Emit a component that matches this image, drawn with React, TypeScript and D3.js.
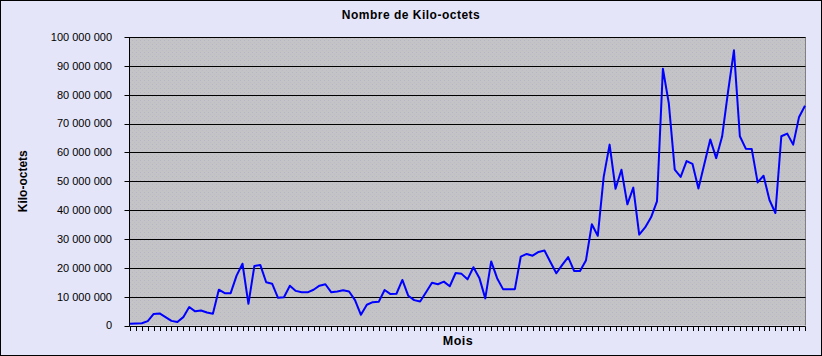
import React from "react";
import * as d3 from "d3";

const title = "Nombre de Kilo-octets";
const yTitle = "Kilo-octets";
const xTitle = "Mois";

// Monthly volumes in millions of kilo-octets
const valuesMillions: number[] = [
  0.6, 0.7, 0.8, 1.5, 4.0, 4.2, 2.9, 1.6, 1.2, 2.9,
  6.4, 4.9, 5.2, 4.5, 4.1, 12.4, 11.2, 11.2, 17.3, 21.4,
  7.5, 20.6, 21.0, 15.0, 14.5, 9.6, 9.8, 13.8, 12.0, 11.5,
  11.5, 12.4, 13.8, 14.3, 11.5, 11.8, 12.2, 11.8, 8.8, 3.7,
  7.2, 8.1, 8.2, 12.3, 10.9, 11.0, 15.8, 10.3, 8.8, 8.3,
  11.5, 14.8, 14.3, 15.2, 13.6, 18.2, 17.9, 16.0, 20.2, 16.5,
  9.4, 22.2, 16.4, 12.6, 12.6, 12.6, 23.9, 24.8, 24.2, 25.5,
  26.0, 22.0, 18.1, 21.0, 23.7, 18.9, 18.9, 22.5, 35.1, 31.1,
  51.5, 62.7, 47.4, 54.0, 42.0, 47.8, 31.5, 34.0, 37.5, 43.0,
  89.0, 77.0, 54.0, 51.5, 57.0, 56.0, 47.5, 56.0, 64.5, 58.0,
  65.5, 81.0, 95.4, 65.6, 61.3, 61.2, 49.6, 51.9, 43.5, 39.0,
  65.6, 66.5, 62.7, 72.3, 76.2,
];

const yTickValues: number[] = [0, 10, 20, 30, 40, 50, 60, 70, 80, 90, 100].map((m) => m * 1000000);

const values = valuesMillions.map((m) => m * 1000000);

const W = 822;
const H = 356;
const left = 129.5;
const right = 805.5;
const top = 37;
const bottom = 325.5;

const fmt = (v: number) => d3.format(",")(v).replace(/,/g, " ");

export default function App() {
  const x = d3.scaleLinear().domain([0, values.length - 1]).range([130, 805]);
  const y = d3.scaleLinear().domain([0, 100000000]).range([bottom, top]);
  const line = d3
    .line<number>()
    .x((_, i) => x(i))
    .y((d) => y(d));
  const crisp = (v: number) => Math.round(v) + 0.5;
  const font = "'Liberation Sans', Arial, sans-serif";

  return (
    <div style={{ position: "absolute", left: 0, top: 0 }}>
      <svg width={W} height={H} style={{ display: "block" }} fontFamily={font}>
        <defs>
          <pattern id="dots" width="4" height="4" patternUnits="userSpaceOnUse">
            <rect width="4" height="4" fill="#c4c3c6" />
            <rect x="0" y="0" width="1" height="1" fill="#b6b4c8" />
            <rect x="2" y="2" width="1" height="1" fill="#bcbbc9" />
          </pattern>
        </defs>
        <rect x={0.5} y={0.5} width={W - 1} height={H - 1} fill="#e5e5f9" stroke="#000" />
        <rect x={left} y={top} width={right - left} height={bottom - top} fill="url(#dots)" />
        {/* right plot border */}
        <line x1={right} x2={right} y1={top} y2={bottom} stroke="#808080" />
        {/* gridlines */}
        {yTickValues.slice(1).map((v) => (
          <line key={"g" + v} x1={left} x2={right} y1={crisp(y(v))} y2={crisp(y(v))} stroke="#000" />
        ))}
        {/* y ticks and labels */}
        {yTickValues.map((v) => (
          <g key={"t" + v}>
            <line x1={124.5} x2={left} y1={crisp(y(v))} y2={crisp(y(v))} stroke="#000" />
            <text x={112} y={y(v)} dy="0.35em" textAnchor="end" fontSize={11} fill="#000">
              {fmt(v)}
            </text>
          </g>
        ))}
        {/* axes */}
        <line x1={left} x2={left} y1={top} y2={crisp(bottom)} stroke="#000" />
        <line x1={left} x2={right} y1={crisp(bottom)} y2={crisp(bottom)} stroke="#000" />
        {/* x ticks */}
        {values.map((_, i) => (
          <line
            key={"x" + i}
            x1={crisp(x(i))}
            x2={crisp(x(i))}
            y1={crisp(bottom)}
            y2={331}
            stroke="#000"
          />
        ))}
        {/* data line */}
        <path d={line(values) || ""} fill="none" stroke="#0000ff" strokeWidth={2} strokeLinejoin="round" />
        {/* titles */}
        <text x={411} y={19} textAnchor="middle" fontSize={12} fontWeight="bold" letterSpacing={0.5} fill="#000">
          {title}
        </text>
        <text x={458} y={345} textAnchor="middle" fontSize={12.5} fontWeight="bold" letterSpacing={0.5} fill="#000">
          {xTitle}
        </text>
        <text
          transform={`translate(27,${(top + bottom) / 2}) rotate(-90)`}
          textAnchor="middle"
          fontSize={12}
          fontWeight="bold"
          fill="#000"
        >
          {yTitle}
        </text>
      </svg>
    </div>
  );
}
